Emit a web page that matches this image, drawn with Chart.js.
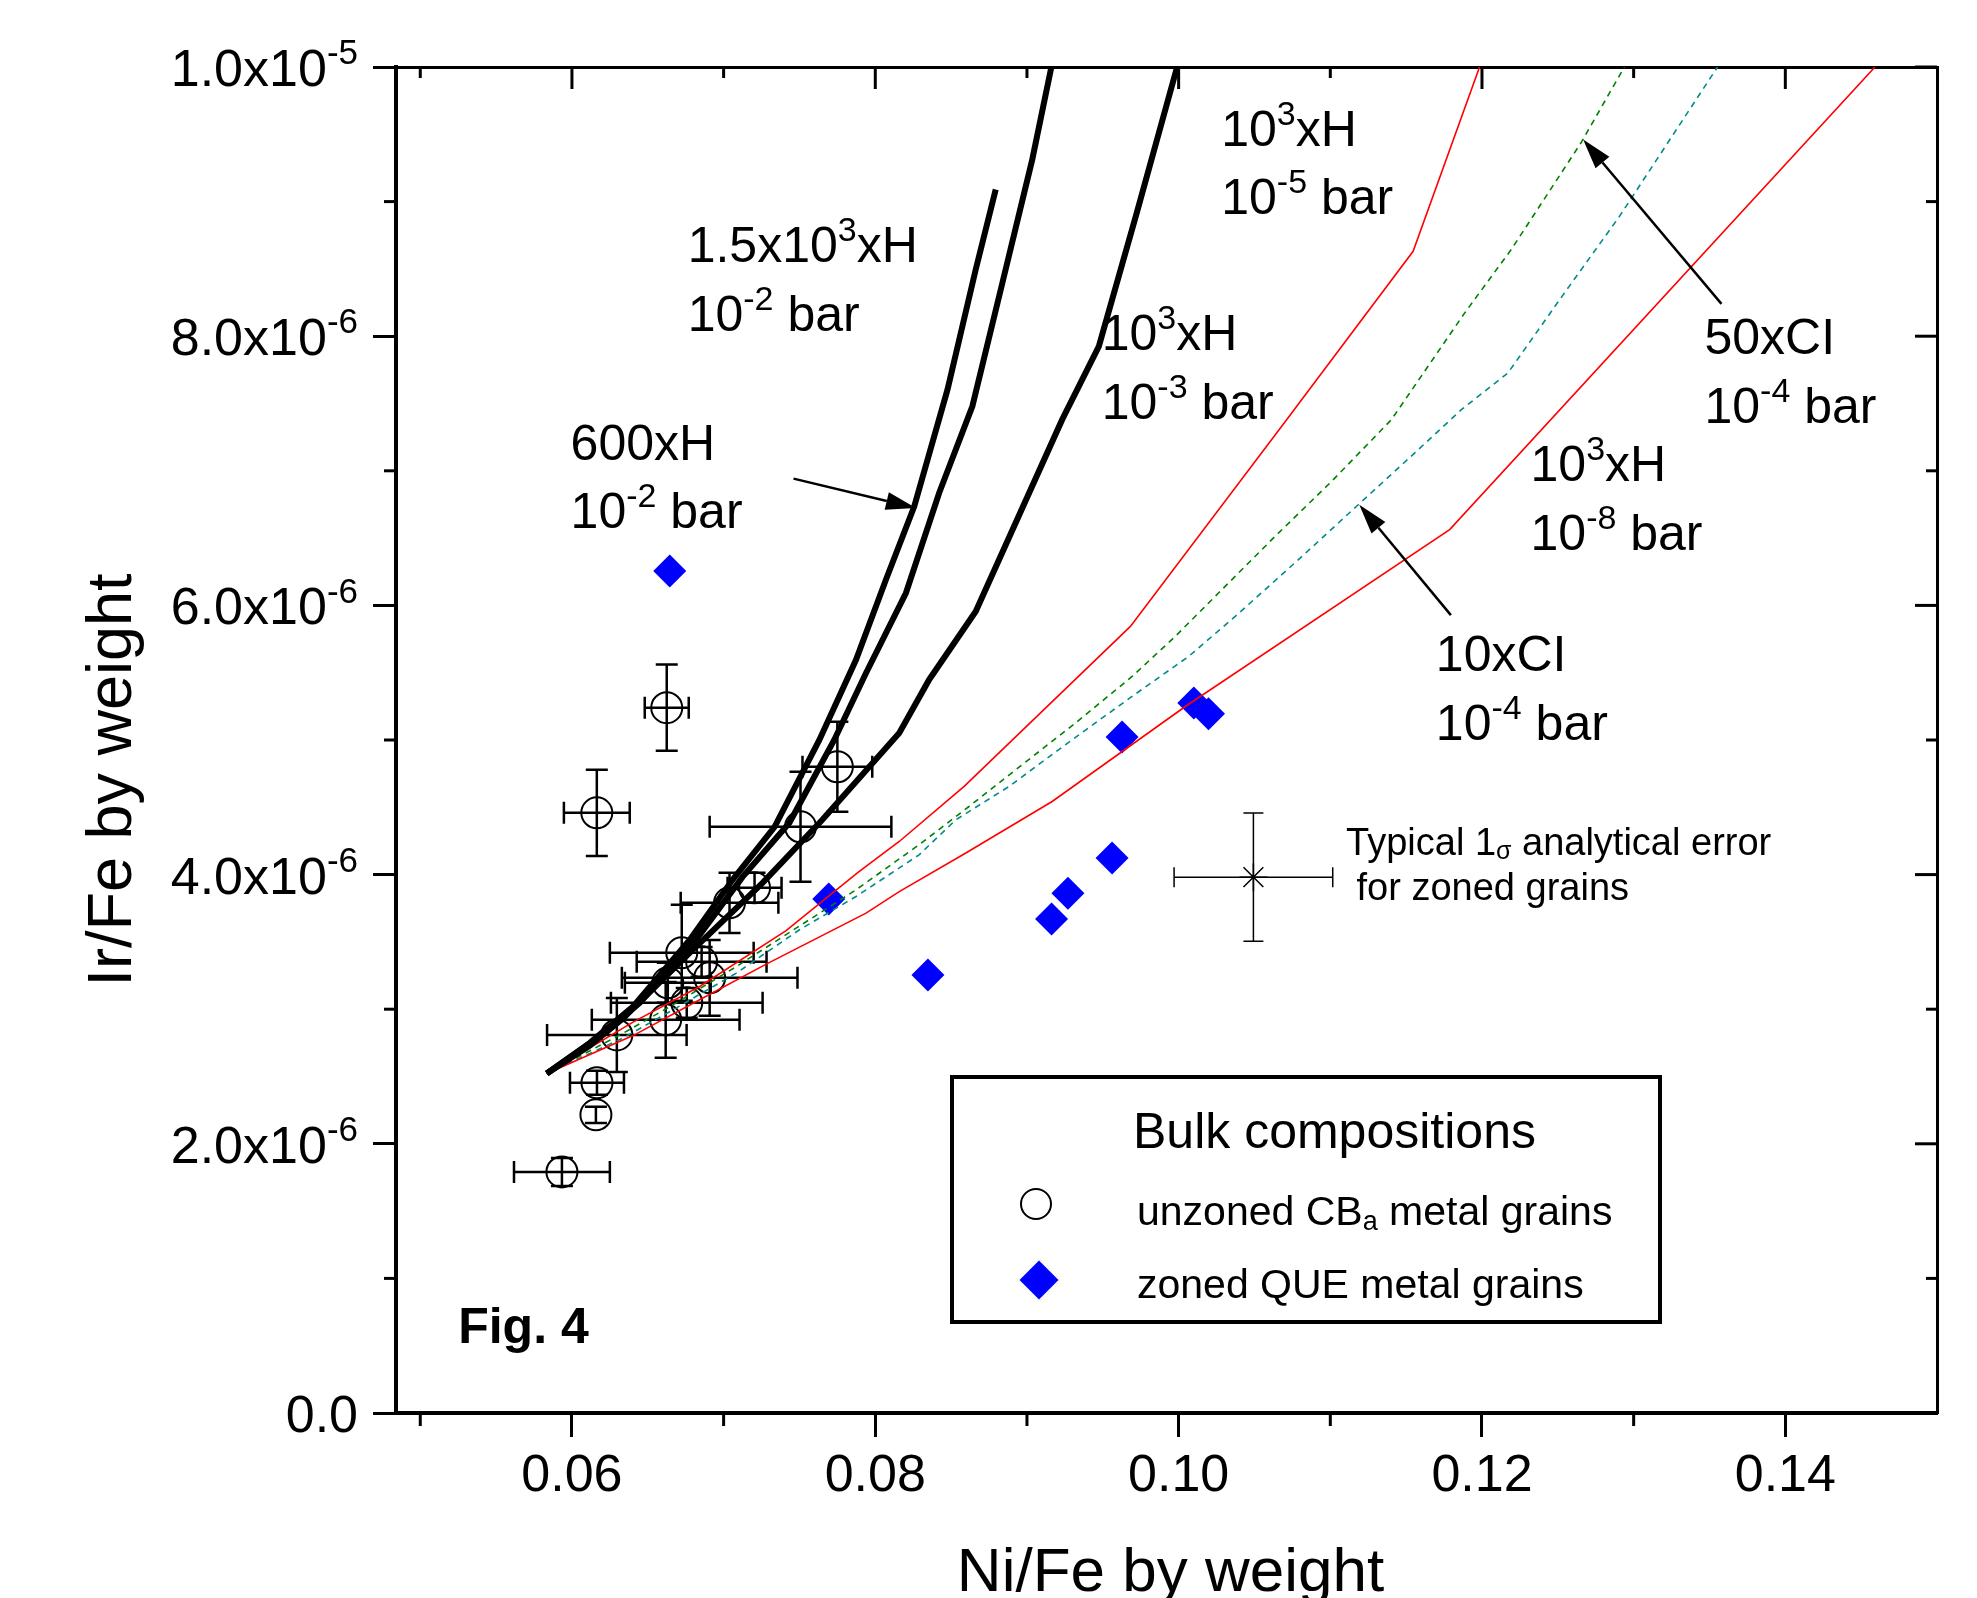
<!DOCTYPE html>
<html>
<head>
<meta charset="utf-8">
<title>Ir/Fe vs Ni/Fe - Fig. 4</title>
<script src="https://cdn.jsdelivr.net/npm/chart.js@4.4.1/dist/chart.umd.min.js"></script>
<style>
    html, body { margin: 0; padding: 0; background: #fff; }
    #wrap { width: 1977px; height: 1598px; }
</style>
</head>
<body>
<div id="wrap"><canvas id="chart" width="1977" height="1598"></canvas></div>
<script>
// Axis ticks (Ir/Fe values are in units of 1e-6)
const xMajorTicks = [0.06, 0.08, 0.10, 0.12, 0.14];
const xMinorTicks = [0.05, 0.07, 0.09, 0.11, 0.13];
const yMajorTicks = [0, 2, 4, 6, 8, 10];
const yMinorTicks = [1, 3, 5, 7, 9];
const yTickLabels = ['0.0', '2.0x10^-6^', '4.0x10^-6^', '6.0x10^-6^', '8.0x10^-6^', '1.0x10^-5^'];

// Model curves: 600xH, 10^-2 bar
const h600Ni = [0.05834, 0.06118, 0.06401, 0.06776, 0.07059, 0.07336, 0.07632, 0.07873, 0.0807, 0.08257, 0.08476, 0.08662, 0.08794];
const h600Ir = [2.522, 2.750, 3.017, 3.515, 3.961, 4.355, 5.002, 5.596, 6.191, 6.736, 7.603, 8.495, 9.090];

// 1.5x10^3xH, 10^-2 bar
const h1500Ni = [0.05834, 0.06151, 0.06447, 0.06842, 0.07125, 0.07434, 0.0773, 0.07939, 0.08202, 0.08421, 0.0864, 0.08838, 0.09035, 0.09161];
const h1500Ir = [2.522, 2.772, 3.047, 3.553, 3.983, 4.385, 5.002, 5.498, 6.092, 6.835, 7.479, 8.396, 9.313, 10.0];

// 10^3xH, 10^-3 bar
const h1000Ni = [0.05834, 0.06118, 0.06336, 0.06776, 0.07257, 0.07651, 0.08158, 0.08355, 0.08662, 0.09232, 0.09474, 0.09722, 0.0999];
const h1000Ir = [2.522, 2.73, 2.93, 3.419, 3.939, 4.407, 5.052, 5.448, 5.955, 7.380, 7.925, 8.909, 10.0];

// 10^3xH, 10^-5 bar (red, upper)
const h1000e5Ni = [0.05834, 0.06403, 0.06842, 0.07412, 0.07884, 0.08158, 0.08586, 0.09682, 0.10712, 0.11546, 0.11984];
const h1000e5Ir = [2.522, 2.904, 3.169, 3.584, 4.015, 4.246, 4.655, 5.844, 7.380, 8.631, 10.0];

// 10^3xH, 10^-8 bar (red, lower)
const h1000e8Ni = [0.05834, 0.06403, 0.06842, 0.07281, 0.07939, 0.08158, 0.08597, 0.09166, 0.10044, 0.11787, 0.14591];
const h1000e8Ir = [2.522, 2.804, 3.070, 3.335, 3.714, 3.874, 4.160, 4.543, 5.249, 6.563, 10.0];

// 50xCI, 10^-4 bar (green dashed)
const ci50Ni = [0.05834, 0.06338, 0.06666, 0.07084, 0.07478, 0.07873, 0.08289, 0.08618, 0.08926, 0.0932, 0.09693, 0.09978, 0.10263, 0.10636, 0.11009, 0.11403, 0.11886, 0.12193, 0.12653, 0.12939];
const ci50Ir = [2.522, 2.822, 3.032, 3.317, 3.602, 3.887, 4.222, 4.506, 4.779, 5.126, 5.472, 5.770, 6.092, 6.513, 6.922, 7.380, 8.173, 8.644, 9.437, 10.0];

// 10xCI, 10^-4 bar (teal dashed)
const ci10Ni = [0.05834, 0.06338, 0.06666, 0.07084, 0.075, 0.07873, 0.08289, 0.08531, 0.08882, 0.09298, 0.09693, 0.10066, 0.10373, 0.1079, 0.11184, 0.11557, 0.11864, 0.12171, 0.12544, 0.12901, 0.13553];
const ci10Ir = [2.522, 2.787, 2.995, 3.268, 3.590, 3.837, 4.147, 4.407, 4.655, 5.002, 5.324, 5.621, 5.918, 6.340, 6.748, 7.133, 7.454, 7.727, 8.322, 8.881, 10.0];

// Unzoned CBa metal grains (with 1 sigma errors)
const unzonedNi = [0.05934, 0.06158, 0.06165, 0.06296, 0.06618, 0.06757, 0.06632, 0.06908, 0.06724, 0.06855, 0.07039, 0.07204, 0.07507, 0.0775, 0.06164, 0.06625];
const unzonedIr = [1.791, 2.215, 2.453, 2.809, 2.921, 3.047, 3.196, 3.233, 3.419, 3.352, 3.790, 3.902, 4.355, 4.801, 4.459, 5.240];
const unzonedNiErr = [0.00316, 0, 0.00178, 0.0046, 0.00487, 0.005, 0.00283, 0.00579, 0.00474, 0.00428, 0.00322, 0.00178, 0.00599, 0.0023, 0.00217, 0.00145];
const unzonedIrErr = [0.104, 0.06, 0.089, 0.275, 0.282, 0.111, 0.149, 0.282, 0.357, 0.111, 0.223, 0.111, 0.409, 0.334, 0.32, 0.32];

// Zoned QUE metal grains
const zonedNi = [0.06645, 0.07693, 0.08347, 0.09162, 0.0927, 0.09561, 0.09627, 0.1010, 0.10197];
const zonedIr = [6.255, 3.818, 3.255, 3.671, 3.862, 4.123, 5.022, 5.275, 5.195];

// Typical analytical error for zoned grains
const typicalNi = [0.10493];
const typicalIr = [3.981];
const typicalNiErr = [0.00523];
const typicalIrErr = [0.476];

const FONT = "'Liberation Sans', Arial, Helvetica, sans-serif";

// text labels placed in data coordinates (left edge, baseline)
const curveLabels = [
    ['1.5x10^3^xH', 0.06763, 8.554], ['10^-2^ bar', 0.06763, 8.042],
    ['600xH', 0.05991, 7.082], ['10^-2^ bar', 0.05991, 6.575],
    ['10^3^xH', 0.09493, 7.900], ['10^-3^ bar', 0.09493, 7.385],
    ['10^3^xH', 0.10281, 9.416], ['10^-5^ bar', 0.10281, 8.909],
    ['50xCI', 0.13467, 7.865], ['10^-4^ bar', 0.13467, 7.353],
    ['10^3^xH', 0.12320, 6.922], ['10^-8^ bar', 0.12320, 6.414],
    ['10xCI', 0.11696, 5.510], ['10^-4^ bar', 0.11696, 4.998]
];
// arrows: [fromNi, fromIr, toNi, toIr]
const arrows = [
    [0.07461, 6.942, 0.08268, 6.724],
    [0.13579, 8.240, 0.12667, 9.461],
    [0.11795, 5.928, 0.11191, 6.748]
];

function toPoints(xs, ys) {
    return xs.map((v, i) => ({ x: v, y: ys[i] }));
}

// '^' toggles superscript, '_' toggles subscript
function drawRich(ctx, str, x, y, size, align, weight) {
    const parts = [];
    let mode = 0, buf = '';
    for (const ch of str) {
        if (ch === '^' || ch === '_') {
            if (buf) parts.push({ t: buf, m: mode });
            buf = '';
            mode = mode ? 0 : (ch === '^' ? 1 : 2);
        } else {
            buf += ch;
        }
    }
    if (buf) parts.push({ t: buf, m: mode });
    const small = Math.round(size * 0.67);
    const w0 = weight || 'normal';
    const fontFor = m => w0 + ' ' + (m ? small : size) + 'px ' + FONT;
    let total = 0;
    parts.forEach(p => { ctx.font = fontFor(p.m); p.w = ctx.measureText(p.t).width; total += p.w; });
    let cx = align === 'right' ? x - total : (align === 'center' ? x - total / 2 : x);
    ctx.textAlign = 'left';
    ctx.textBaseline = 'alphabetic';
    parts.forEach(p => {
        ctx.font = fontFor(p.m);
        const dy = p.m === 1 ? -size * 0.42 : (p.m === 2 ? size * 0.12 : 0);
        ctx.fillText(p.t, cx, y + dy);
        cx += p.w;
    });
}

function drawDiamond(ctx, x, y, r) {
    ctx.beginPath();
    ctx.moveTo(x - r, y);
    ctx.lineTo(x, y - r);
    ctx.lineTo(x + r, y);
    ctx.lineTo(x, y + r);
    ctx.closePath();
    ctx.fill();
}

// Error bars drawn from the scales
const errorBars = {
    id: 'errorBars',
    beforeDatasetsDraw(chart) {
        const { ctx, scales: { x, y } } = chart;
        const bars = (xs, ys, exs, eys, lw, cap) => {
            ctx.lineWidth = lw;
            xs.forEach((v, i) => {
                const px = x.getPixelForValue(v), py = y.getPixelForValue(ys[i]);
                if (exs[i] > 0) {
                    const l = x.getPixelForValue(v - exs[i]), r = x.getPixelForValue(v + exs[i]);
                    ctx.beginPath();
                    ctx.moveTo(l, py); ctx.lineTo(r, py);
                    ctx.moveTo(l, py - cap); ctx.lineTo(l, py + cap);
                    ctx.moveTo(r, py - cap); ctx.lineTo(r, py + cap);
                    ctx.stroke();
                }
                if (eys[i] > 0) {
                    const t = y.getPixelForValue(ys[i] + eys[i]), b = y.getPixelForValue(ys[i] - eys[i]);
                    ctx.beginPath();
                    ctx.moveTo(px, t); ctx.lineTo(px, b);
                    ctx.moveTo(px - cap, t); ctx.lineTo(px + cap, t);
                    ctx.moveTo(px - cap, b); ctx.lineTo(px + cap, b);
                    ctx.stroke();
                }
            });
        };
        ctx.save();
        ctx.strokeStyle = '#000';
        bars(unzonedNi, unzonedIr, unzonedNiErr, unzonedIrErr, 2.5, 11);
        bars(typicalNi, typicalIr, typicalNiErr, typicalIrErr, 1.5, 10);
        ctx.restore();
    }
};

// Minor ticks, mirrored ticks, y labels, texts, arrows and legend
const decorations = {
    id: 'decorations',
    afterDraw(chart) {
        const { ctx, chartArea: a, scales: { x, y } } = chart;
        ctx.save();
        ctx.strokeStyle = '#000';
        ctx.fillStyle = '#000';
        ctx.lineWidth = 3;
        const seg = (x1, y1, x2, y2) => { ctx.beginPath(); ctx.moveTo(x1, y1); ctx.lineTo(x2, y2); ctx.stroke(); };

        xMinorTicks.forEach(v => {
            const px = x.getPixelForValue(v);
            seg(px, a.bottom, px, a.bottom + 13);
            seg(px, a.top, px, a.top + 11);
        });
        xMajorTicks.forEach(v => {
            const px = x.getPixelForValue(v);
            seg(px, a.top, px, a.top + 22);
        });
        yMinorTicks.forEach(v => {
            const py = y.getPixelForValue(v);
            seg(a.left - 12, py, a.left, py);
            seg(a.right - 11, py, a.right, py);
        });
        yMajorTicks.forEach((v, i) => {
            const py = y.getPixelForValue(v);
            seg(a.right - 22, py, a.right, py);
            drawRich(ctx, yTickLabels[i], a.left - 38, py + 19, 52, 'right');
        });

        // axis titles
        drawRich(ctx, 'Ni/Fe by weight', (a.left + a.right) / 2 + 4, 1591, 62, 'center');
        ctx.save();
        ctx.translate(131, 780);
        ctx.rotate(-Math.PI / 2);
        drawRich(ctx, 'Ir/Fe by weight', 0, 0, 63, 'center');
        ctx.restore();

        // curve labels
        curveLabels.forEach(([t, nx, ny]) => {
            drawRich(ctx, t, x.getPixelForValue(nx), y.getPixelForValue(ny), 50);
        });

        // arrows
        ctx.lineWidth = 2.5;
        arrows.forEach(([x0, y0, x1, y1]) => {
            const ax = x.getPixelForValue(x0), ay = y.getPixelForValue(y0);
            const bx = x.getPixelForValue(x1), by = y.getPixelForValue(y1);
            const ang = Math.atan2(by - ay, bx - ax);
            const len = 30, hw = 9;
            const hx = bx - len * Math.cos(ang), hy = by - len * Math.sin(ang);
            seg(ax, ay, hx, hy);
            ctx.beginPath();
            ctx.moveTo(bx, by);
            ctx.lineTo(hx + hw * Math.sin(ang), hy - hw * Math.cos(ang));
            ctx.lineTo(hx - hw * Math.sin(ang), hy + hw * Math.cos(ang));
            ctx.closePath();
            ctx.fill();
        });

        // typical error note
        drawRich(ctx, 'Typical 1_\u03c3_ analytical error', x.getPixelForValue(0.11104), y.getPixelForValue(4.147), 38);
        drawRich(ctx, 'for zoned grains', x.getPixelForValue(0.11173), y.getPixelForValue(3.813), 38);

        // figure tag
        drawRich(ctx, 'Fig. 4', x.getPixelForValue(0.0525), y.getPixelForValue(0.52), 50, 'left', 'bold');

        // legend box
        ctx.lineWidth = 4;
        ctx.strokeRect(952, 1077, 708, 245);
        drawRich(ctx, 'Bulk compositions', 1133, 1148, 50);
        drawRich(ctx, 'unzoned CB_a_ metal grains', 1137, 1225, 41);
        drawRich(ctx, 'zoned QUE metal grains', 1137, 1298, 41);
        ctx.lineWidth = 2;
        ctx.beginPath();
        ctx.arc(1036, 1204, 15, 0, Math.PI * 2);
        ctx.stroke();
        ctx.fillStyle = '#0000ff';
        drawDiamond(ctx, 1039, 1280, 19.5);
        ctx.restore();
    }
};

const lineStyle = (color, width, dash) => ({
    showLine: true,
    borderColor: color,
    borderWidth: width,
    borderDash: dash || [],
    pointRadius: 0,
    pointHoverRadius: 0,
    tension: 0,
    fill: false
});

const ctx = document.getElementById('chart');

new Chart(ctx, {
    type: 'scatter',
    data: {
        datasets: [
            Object.assign({ label: '600xH 1e-2 bar', data: toPoints(h600Ni, h600Ir) }, lineStyle('#000', 6)),
            Object.assign({ label: '1.5e3xH 1e-2 bar', data: toPoints(h1500Ni, h1500Ir) }, lineStyle('#000', 6)),
            Object.assign({ label: '1e3xH 1e-3 bar', data: toPoints(h1000Ni, h1000Ir) }, lineStyle('#000', 6)),
            Object.assign({ label: '1e3xH 1e-5 bar', data: toPoints(h1000e5Ni, h1000e5Ir) }, lineStyle('#ff0000', 1.6)),
            Object.assign({ label: '1e3xH 1e-8 bar', data: toPoints(h1000e8Ni, h1000e8Ir) }, lineStyle('#ff0000', 1.6)),
            Object.assign({ label: '50xCI 1e-4 bar', data: toPoints(ci50Ni, ci50Ir) }, lineStyle('#008000', 1.6, [6, 5])),
            Object.assign({ label: '10xCI 1e-4 bar', data: toPoints(ci10Ni, ci10Ir) }, lineStyle('#008b8b', 1.6, [6, 5])),
            {
                label: 'zoned QUE metal grains',
                data: toPoints(zonedNi, zonedIr),
                pointStyle: 'rectRot',
                pointRadius: 16.5,
                backgroundColor: '#0000ff',
                borderWidth: 0
            },
            {
                label: 'unzoned CBa metal grains',
                data: toPoints(unzonedNi, unzonedIr),
                pointStyle: 'circle',
                pointRadius: 15.5,
                backgroundColor: 'rgba(0,0,0,0)',
                borderColor: '#000',
                borderWidth: 2
            },
            {
                label: 'Typical error',
                data: toPoints(typicalNi, typicalIr),
                pointStyle: 'star',
                pointRadius: 14,
                borderColor: '#000',
                borderWidth: 1.5
            }
        ]
    },
    options: {
        responsive: false,
        devicePixelRatio: 1,
        animation: false,
        layout: { padding: { left: 0, top: 67, right: 40, bottom: 0 } },
        plugins: {
            legend: { display: false },
            tooltip: { enabled: false }
        },
        scales: {
            x: {
                type: 'linear',
                position: 'bottom',
                min: 0.0484,
                max: 0.15,
                afterBuildTicks: s => { s.ticks = xMajorTicks.map(v => ({ value: v })); },
                afterFit: s => { s.height = 185; },
                ticks: {
                    callback: v => v.toFixed(2),
                    font: { family: FONT, size: 52 },
                    color: '#000',
                    padding: 8,
                    maxRotation: 0,
                    autoSkip: false
                },
                grid: { drawOnChartArea: false, drawTicks: true, tickLength: 24, tickWidth: 3, tickColor: '#000' },
                border: { display: true, width: 4, color: '#000' }
            },
            x2: {
                type: 'linear',
                position: 'top',
                min: 0.0484,
                max: 0.15,
                afterFit: s => { s.height = 0; },
                ticks: { display: false },
                grid: { display: false },
                border: { display: true, width: 3, color: '#000' }
            },
            y: {
                type: 'linear',
                position: 'left',
                min: 0,
                max: 10,
                afterBuildTicks: s => { s.ticks = yMajorTicks.map(v => ({ value: v })); },
                afterFit: s => { s.width = 396; },
                ticks: { display: false },
                grid: { drawOnChartArea: false, drawTicks: true, tickLength: 23, tickWidth: 3, tickColor: '#000' },
                border: { display: true, width: 4, color: '#000' }
            },
            y2: {
                type: 'linear',
                position: 'right',
                min: 0,
                max: 10,
                afterFit: s => { s.width = 0; },
                ticks: { display: false },
                grid: { display: false },
                border: { display: true, width: 3, color: '#000' }
            }
        }
    },
    plugins: [errorBars, decorations]
});
</script>
</body>
</html>
